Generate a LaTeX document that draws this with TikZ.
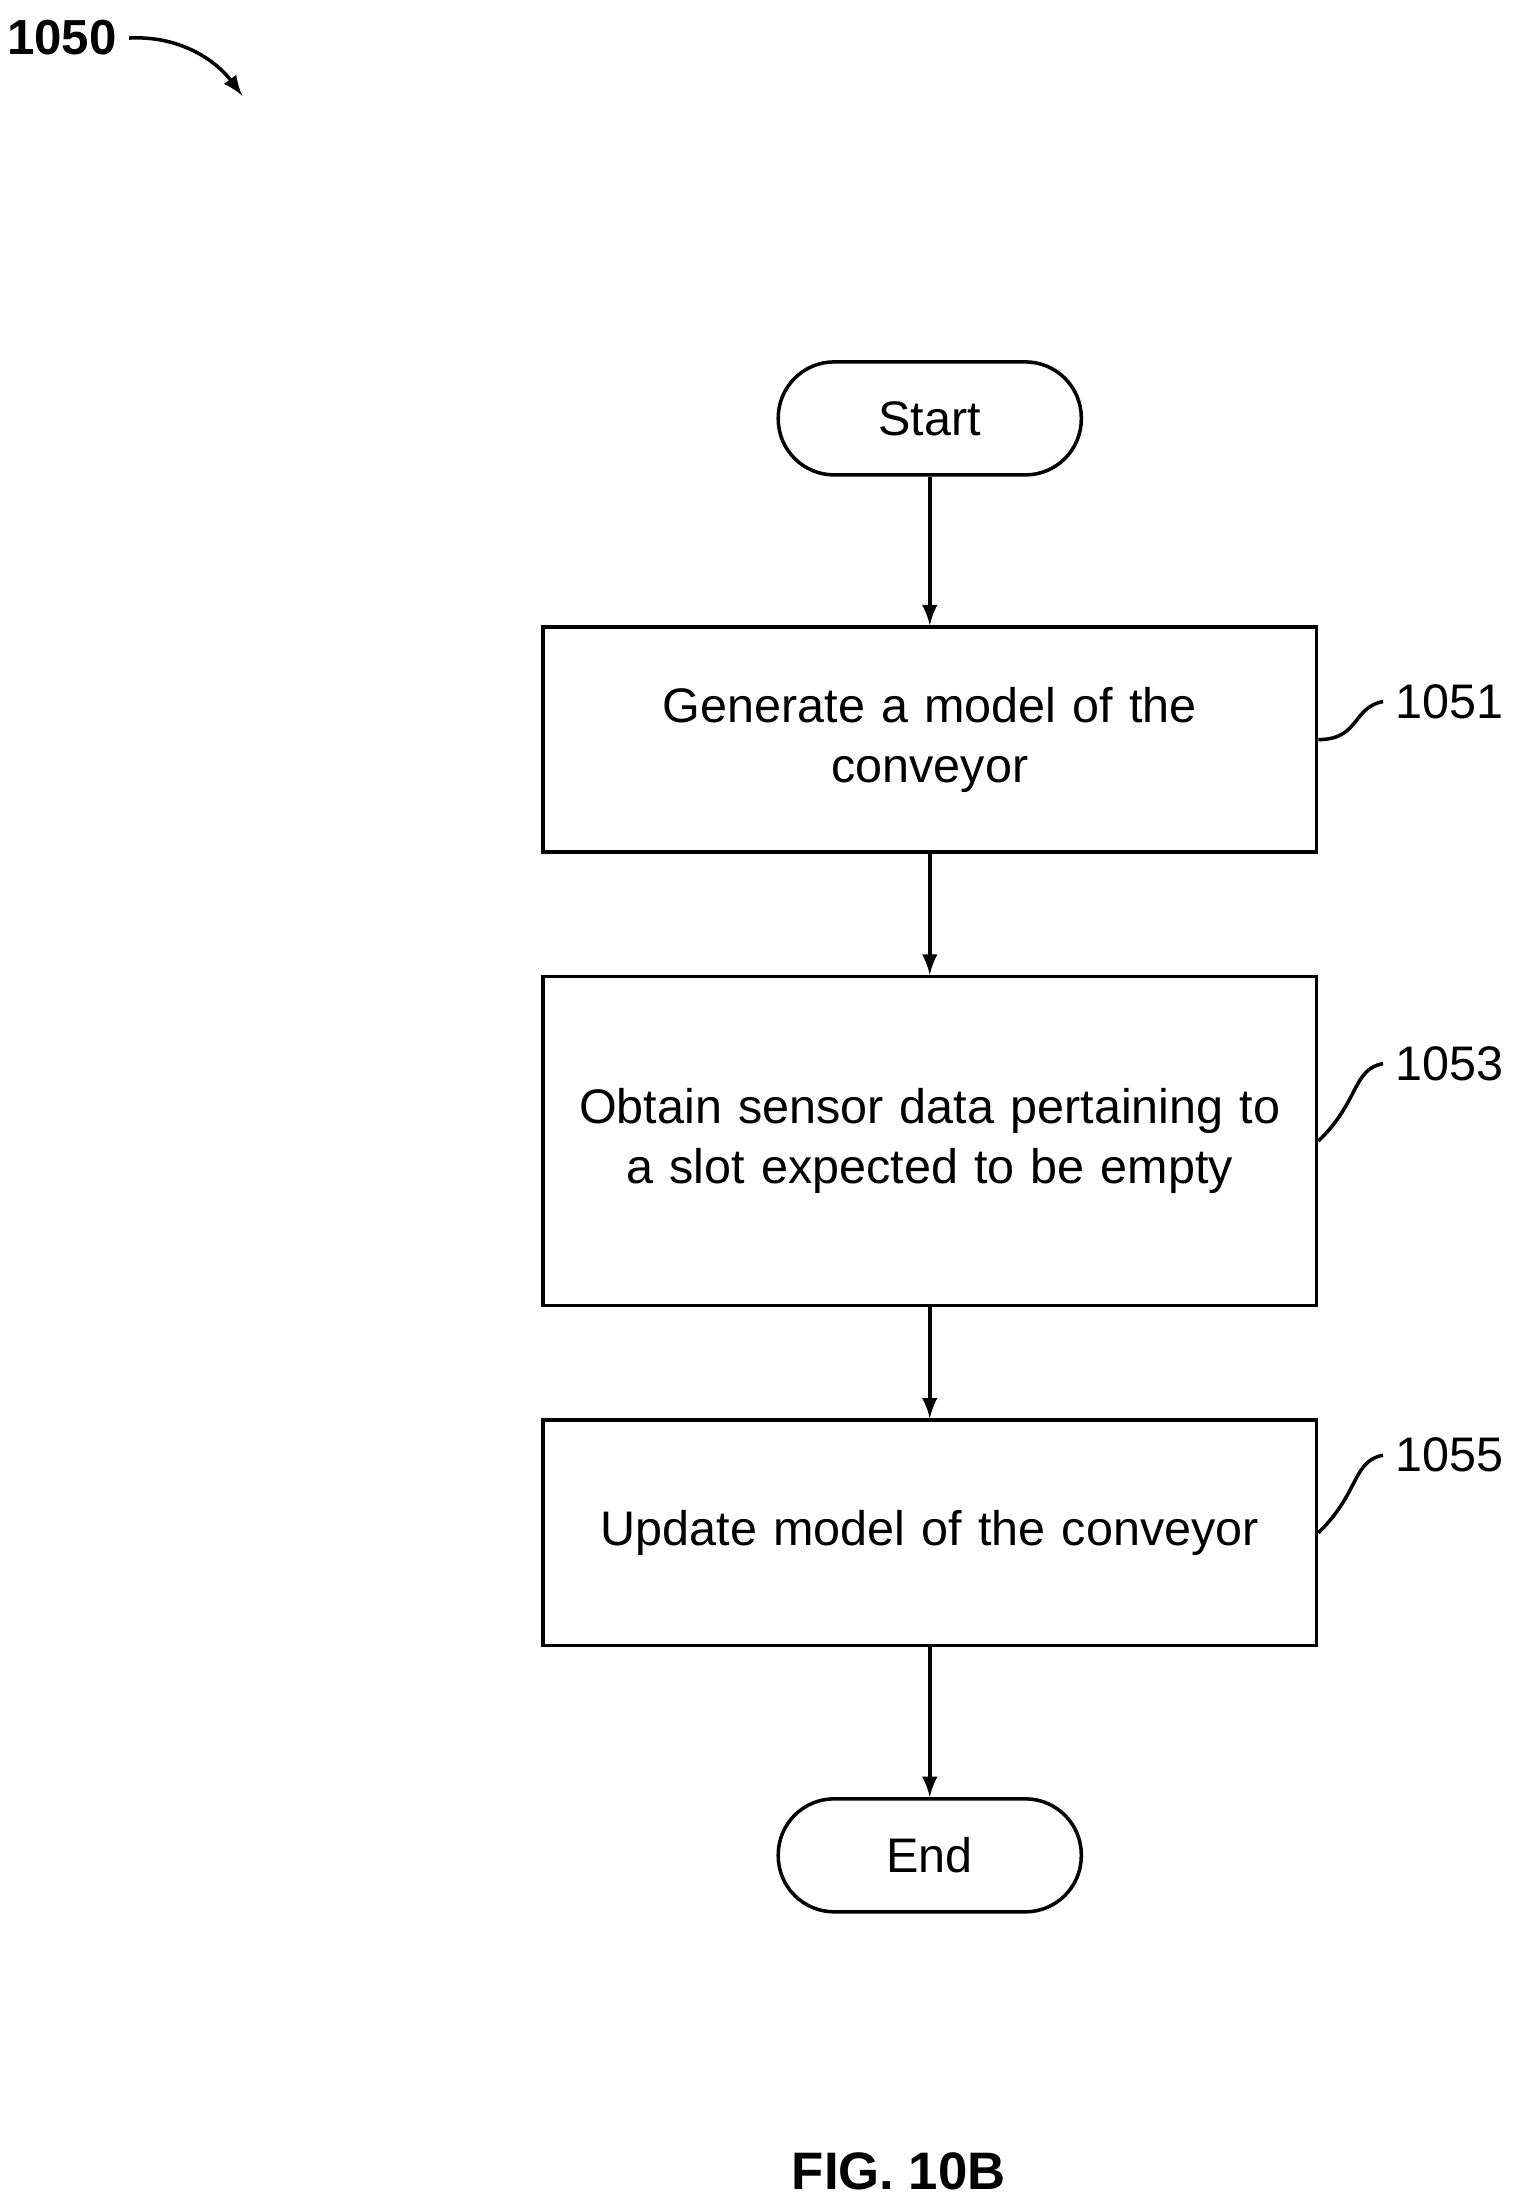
\documentclass[tikz,border=0pt]{standalone}
\usepackage{fontspec}
\setmainfont{Liberation Sans}
\usetikzlibrary{positioning}
\tikzset{
  procbox/.style={draw, line width=1pt, minimum width=7.56cm, text width=7.5cm, align=center, font=\fontsize{13.8}{17}\selectfont},
  term/.style={draw, line width=1pt, rounded corners=0.56cm, minimum width=3.03cm, minimum height=1.13cm, font=\fontsize{13.8}{17}\selectfont},
  flow/.style={-latex, line width=1pt},
  tag/.style={font=\fontsize{13.8}{17}\selectfont}
}
\begin{document}
\begin{tikzpicture}[x=0.01408cm,y=-0.01408cm]
    \useasboundingbox (0,0) rectangle (1080,1556);
    \node[term] (start) at (660,297) {Start};
    \node[procbox, minimum height=2.25cm] (s1) at (660,525) {Generate a model of the\\conveyor};
    \node[procbox, minimum height=3.29cm] (s2) at (660,810) {Obtain sensor data pertaining to\\a slot expected to be empty};
    \node[procbox, minimum height=2.25cm] (s3) at (660,1088) {Update model of the conveyor};
    \node[term] (end) at (660,1317) {End};
    \draw[flow] (start) -- (s1);
    \draw[flow] (s1) -- (s2);
    \draw[flow] (s2) -- (s3);
    \draw[flow] (s3) -- (end);
    % reference numerals
    \node[tag, anchor=east] (n1) at (1076,498) {1051};
    \node[tag, anchor=east] (n2) at (1076,755) {1053};
    \node[tag, anchor=east] (n3) at (1076,1033) {1055};
    \draw[line width=1pt] (s1.east) .. controls (965,525) and (960,502) .. (n1.west);
    \draw[line width=1pt] (s2.east) .. controls (965,782) and (960,759) .. (n2.west);
    \draw[line width=1pt] (s3.east) .. controls (965,1060) and (960,1037) .. (n3.west);
    \node[tag, font=\bfseries\fontsize{14}{17}\selectfont] (fig) at (44,27) {1050};
    \coordinate (figtip) at (172,68);
    \draw[-latex, line width=1pt] (fig.east) .. controls (130,25) and (155,45) .. (figtip);
    \node[font=\bfseries\fontsize{15}{18}\selectfont] (cap) at (638,1541) {FIG. 10B};
\end{tikzpicture}
\end{document}
